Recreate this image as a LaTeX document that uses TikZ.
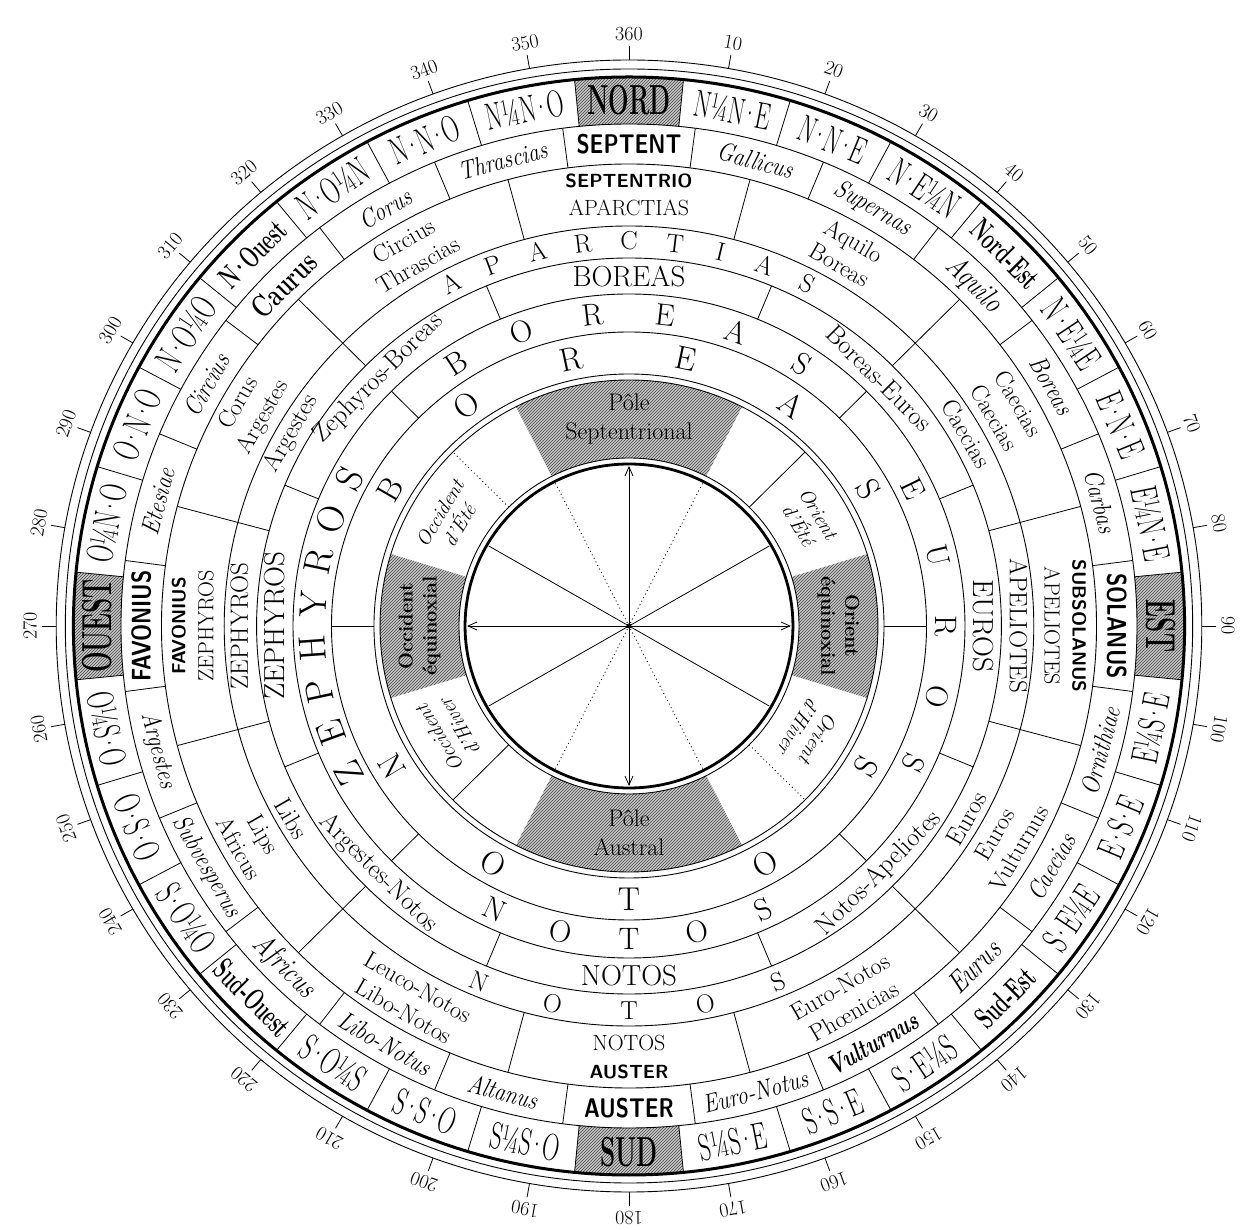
\documentclass[tikz,border=0pt]{standalone}
\usepackage{fontspec}
\usepackage{graphicx}
\usetikzlibrary{arrows.meta,patterns}

\newcommand\fsz[2]{\fontsize{#1}{#2}\selectfont}
\newcommand\md{\kern-0.12em·\kern-0.12em}
% the 32 points
\newcommand\ptlab[1]{{\fsz{38}{40}\scalebox{0.62}[1]{#1}}}
\newcommand\boldlab[1]{{\fsz{31}{34}\bfseries\scalebox{0.6}[1]{#1}}}
\newcommand\cardlab[1]{{\fsz{42}{44}\bfseries\scalebox{0.58}[1]{#1}}}
% the 24 winds
\newcommand\sfblab[1]{{\fsz{27}{28}\sffamily\bfseries\scalebox{0.8}[1]{#1}}}
\newcommand\itlab[1]{{\fsz{26}{28}\itshape\scalebox{0.85}[1]{#1}}}
\newcommand\bigitlab[1]{{\fsz{30}{32}\itshape\scalebox{0.82}[1]{#1}}}
\newcommand\bitlab[1]{{\fsz{27}{29}\bfseries\itshape\scalebox{0.75}[1]{#1}}}
\newcommand\brmlab[1]{{\fsz{31}{32}\bfseries\scalebox{0.72}[1]{#1}}}
% spaced capitals
\newcommand\sfsp{\fsz{19}{28}\sffamily\bfseries\addfontfeature{LetterSpace=18}}
\newcommand\rmcaps{\fsz{22}{28}\rmfamily}
\newcommand\romsp{\fsz{22}{28}\rmfamily\addfontfeature{LetterSpace=25}}

% rotation: tops outward above, upright below
\newcommand\setrot[1]{\pgfmathsetmacro\rr{((#1)>90 && (#1)<270) ? 180-(#1) : -(#1)}}
\newcommand\windsector[4]{({90-(#1)}:#3) arc[start angle={90-(#1)},end angle={90-(#2)},radius=#3]
  -- ({90-(#2)}:#4) arc[start angle={90-(#2)},end angle={90-(#1)},radius=#4] -- cycle}
% bearing, step, radius, count, style, letters
\newcommand\spacedword[6]{%
  \foreach \lt [count=\idx] in {#6}{%
    \pgfmathsetmacro\sg{((#1)>90 && (#1)<270) ? -1 : 1}%
    \pgfmathsetmacro\bb{(#1)+\sg*(\idx-((#4)+1)/2)*(#2)}%
    \pgfmathsetmacro\rr{\sg>0 ? -(\bb) : 180-(\bb)}%
    \node[#5,rotate=\rr] at ({90-(\bb)}:#3) {\lt};}}

\begin{document}
\begin{tikzpicture}[x=1.012pt,y=1pt,
  ring/.style={line width=0.9pt},
  divider/.style={line width=0.8pt},
  dots/.style={line width=0.8pt,dash pattern=on 1pt off 3pt},
  hatch/.style={pattern=north east lines,pattern color=black!70},
  shade/.style={fill=gray!45},
  lab/.style={inner sep=0pt},
  rseven/.style={lab,align=center,font=\fsz{24}{28}\addfontfeature{LetterSpace=15}},
  rsix/.style={lab,font=\fsz{25}{28}},
  rsixsp/.style={lab,font=\fsz{26}{28}},
  rfivecap/.style={lab,font=\fsz{29}{30}\addfontfeature{LetterSpace=18}},
  rfive/.style={lab,font=\fsz{26}{28}\addfontfeature{LetterSpace=15}},
  rfour/.style={lab,font=\fsz{31}{32}},
  rfourbig/.style={lab,font=\fsz{38}{40}},
  rthree/.style={lab,font=\fsz{33}{34}},
  pole/.style={lab,align=center,font=\fsz{24}{29}},
  equi/.style={lab,align=center,font=\fsz{20}{24}\bfseries},
  season/.style={lab,align=center,font=\fsz{20}{23}\itshape},
  deg/.style={lab,font=\fsz{20}{21}}]
\fill[white] (-629pt,-604pt) rectangle (616pt,626pt);
\useasboundingbox (-629pt,-604pt) rectangle (616pt,626pt);
\coordinate (c) at (0,0);

% shaded cells
\foreach \bear in {0,90,180,270}{
  \fill[shade] \windsector{\bear-5.625}{\bear+5.625}{502}{549};
  \fill[hatch] \windsector{\bear-5.625}{\bear+5.625}{502}{549};}
\foreach \bear/\w in {0/27,180/27,90/17,270/17}{
  \fill[shade] \windsector{\bear-\w}{\bear+\w}{168}{246};
  \fill[hatch] \windsector{\bear-\w}{\bear+\w}{168}{246};}

% circles
\draw[ring] (c) circle[radius=566];
\draw[line width=3pt] (c) circle[radius=549];
\foreach \rad in {557,502,462,400,368,332,294,252,246,168}
  \draw[ring] (c) circle[radius=\rad];
\draw[line width=2.8pt] (c) circle[radius=162];

% degrees
\foreach \dg in {10,20,...,360}{
  \draw[divider] ({90-\dg}:566) -- ({90-\dg}:580);
  \node[deg,rotate=-\dg] at ({90-\dg}:592) {\dg};}

% cell walls
\foreach \k in {0,...,31}
  \draw[divider] ({84.375-11.25*\k}:502) -- ({84.375-11.25*\k}:549);
\foreach \k in {0,...,23}
  \draw[divider] ({82.5-15*\k}:462) -- ({82.5-15*\k}:502);
\foreach \k in {0,...,11}
  \draw[divider] ({75-30*\k}:400) -- ({75-30*\k}:462);
\foreach \bear in {45,75,105,135,225,255,285,315}
  \draw[divider] ({90-\bear}:368) -- ({90-\bear}:400);
\foreach \k in {0,...,7}
  \draw[divider] ({67.5-45*\k}:332) -- ({67.5-45*\k}:368);
\foreach \k in {0,...,3}
  \draw[divider] ({45-90*\k}:294) -- ({45-90*\k}:332);
\foreach \a in {0,180}
  \draw[divider] (\a:252) -- (\a:294);
\foreach \bear in {45,225}
  \draw[divider] ({90-\bear}:168) -- ({90-\bear}:246);
\foreach \bear in {135,315}
  \draw[dots] ({90-\bear}:168) -- ({90-\bear}:246);

% inner disc
\foreach \bear in {60,120}
  \draw[divider] ({90-\bear}:160) -- ({270-\bear}:160);
\foreach \bear in {27,153}
  \draw[dots] ({90-\bear}:160) -- ({270-\bear}:160);
\coordinate (pn) at (90:160);
\coordinate (ps) at (-90:160);
\coordinate (pe) at (0:160);
\coordinate (pw) at (180:160);
\draw[divider,{Straight Barb[length=9pt,width=8pt]}-{Straight Barb[length=9pt,width=8pt]}] (pn) -- (ps);
\draw[divider,{Straight Barb[length=9pt,width=8pt]}-{Straight Barb[length=9pt,width=8pt]}] (pw) -- (pe);
\fill (c) circle[radius=2.5pt];

% 32 points
\foreach \bear/\f/\txt in {0/\cardlab/NORD, 11.25/\ptlab/N¼N\md E, 22.5/\ptlab/N\md N\md E,
  33.75/\ptlab/N\md E¼N, 45/\boldlab/Nord-Est, 56.25/\ptlab/N\md E¼E, 67.5/\ptlab/E\md N\md E,
  78.75/\ptlab/E¼N\md E, 90/\cardlab/EST, 101.25/\ptlab/E¼S\md E, 112.5/\ptlab/E\md S\md E,
  123.75/\ptlab/S\md E¼E, 135/\boldlab/Sud-Est, 146.25/\ptlab/S\md E¼S, 157.5/\ptlab/S\md S\md E,
  168.75/\ptlab/S¼S\md E, 180/\cardlab/SUD, 191.25/\ptlab/S¼S\md O, 202.5/\ptlab/S\md S\md O,
  213.75/\ptlab/S\md O¼S, 225/\boldlab/Sud-Ouest, 236.25/\ptlab/S\md O¼O, 247.5/\ptlab/O\md S\md O,
  258.75/\ptlab/O¼S\md O, 270/\cardlab/OUEST, 281.25/\ptlab/O¼N\md O, 292.5/\ptlab/O\md N\md O,
  303.75/\ptlab/N\md O¼O, 315/\boldlab/N\md Ouest, 326.25/\ptlab/N\md O¼N, 337.5/\ptlab/N\md N\md O,
  348.75/\ptlab/N¼N\md O}{
  \setrot{\bear}
  \node[lab,rotate=\rr] at ({90-\bear}:526) {\f{\txt}};}

% 24 winds
\foreach \bear/\f/\txt in {0/\sfblab/SEPTENT, 15/\itlab/Gallicus, 30/\itlab/Supernas,
  45/\bigitlab/Aquilo, 60/\itlab/Boreas, 75/\itlab/Carbas, 90/\sfblab/SOLANUS,
  105/\itlab/Ornithiae, 120/\itlab/Caecias, 135/\bigitlab/Eurus, 150/\bitlab/Vulturnus,
  165/\itlab/Euro-Notus, 180/\sfblab/AUSTER, 195/\itlab/Altanus, 210/\itlab/Libo-Notus,
  225/\bigitlab/Africus, 240/\itlab/Subvesperus, 255/\itlab/Argestes, 270/\sfblab/FAVONIUS,
  285/\itlab/Etesiae, 300/\itlab/Circius, 315/\brmlab/Caurus, 330/\itlab/Corus,
  345/\itlab/Thrascias}{
  \setrot{\bear}
  \node[lab,rotate=\rr] at ({90-\bear}:482) {\f{\txt}};}

% 12 winds
\foreach \bear/\txt in {0/{{\sfsp SEPTENTRIO}\\{\rmcaps APARCTIAS}}, 30/{Aquilo\\Boreas},
  60/{Caecias\\Caecias}, 90/{{\sfsp SUBSOLANUS}\\{\rmcaps APELIOTES}},
  120/{Euros\\Vulturnus}, 150/{Euro-Notos\\Phœnicias},
  180/{{\romsp NOTOS}\\{\sfsp AUSTER}}, 210/{Leuco-Notos\\Libo-Notos},
  240/{Lips\\Africus}, 270/{{\sfsp FAVONIUS}\\{\romsp ZEPHYROS}},
  300/{Corus\\Argestes}, 330/{Circius\\Thrascias}}{
  \setrot{\bear}
  \node[rseven,rotate=\rr] at ({90-\bear}:431) {\txt};}

% Aristotle's ring
\foreach \bear/\txt in {60/Caecias, 90/APELIOTES, 120/Euros, 240/Libs, 270/ZEPHYROS, 300/Argestes}{
  \setrot{\bear}
  \node[rsix,rotate=\rr] at ({90-\bear}:385) {\txt};}
\spacedword{0}{6.8}{385}{9}{rsixsp}{A,P,A,R,C,T,I,A,S}
\spacedword{180}{11.3}{385}{5}{rsixsp}{N,O,T,O,S}

% 8 winds
\foreach \bear/\txt in {0/BOREAS, 90/EUROS, 180/NOTOS, 270/ZEPHYROS}{
  \setrot{\bear}
  \node[rfivecap,rotate=\rr] at ({90-\bear}:350) {\txt};}
\foreach \bear/\txt in {45/Boreas-Euros, 135/Notos-Apeliotes, 225/Argestes-Notos, 315/Zephyros-Boreas}{
  \setrot{\bear}
  \node[rfive,rotate=\rr] at ({90-\bear}:350) {\txt};}

% 4 winds, 2 winds
\spacedword{0}{13.2}{313}{6}{rfour}{B,O,R,E,A,S}
\spacedword{90}{13}{313}{5}{rfour}{E,U,R,O,S}
\spacedword{180}{12.5}{313}{5}{rfour}{N,O,T,O,S}
\spacedword{270}{8}{313}{8}{rfourbig}{Z,E,P,H,Y,R,O,S}
\spacedword{0}{24}{273}{6}{rthree}{B,O,R,E,A,S}
\spacedword{180}{29.5}{273}{5}{rthree}{N,O,T,O,S}

% sunrise and sunset ring
\node[pole] at (90:207) {Pôle\\Septentrional};
\node[pole] at (-90:207) {Pôle\\Austral};
\node[equi,rotate=-90] at (0:207) {Orient\\équinoxial};
\node[equi,rotate=90] at (180:207) {Occident\\équinoxial};
\node[season,rotate=-59] at ({90-59}:207) {Orient\\d'Été};
\node[season,rotate=-121] at ({90-121}:207) {Orient\\d'Hiver};
\node[season,rotate=59] at ({90-301}:207) {Occident\\d'Été};
\node[season,rotate=121] at ({90-239}:207) {Occident\\d'Hiver};
\end{tikzpicture}
\end{document}
